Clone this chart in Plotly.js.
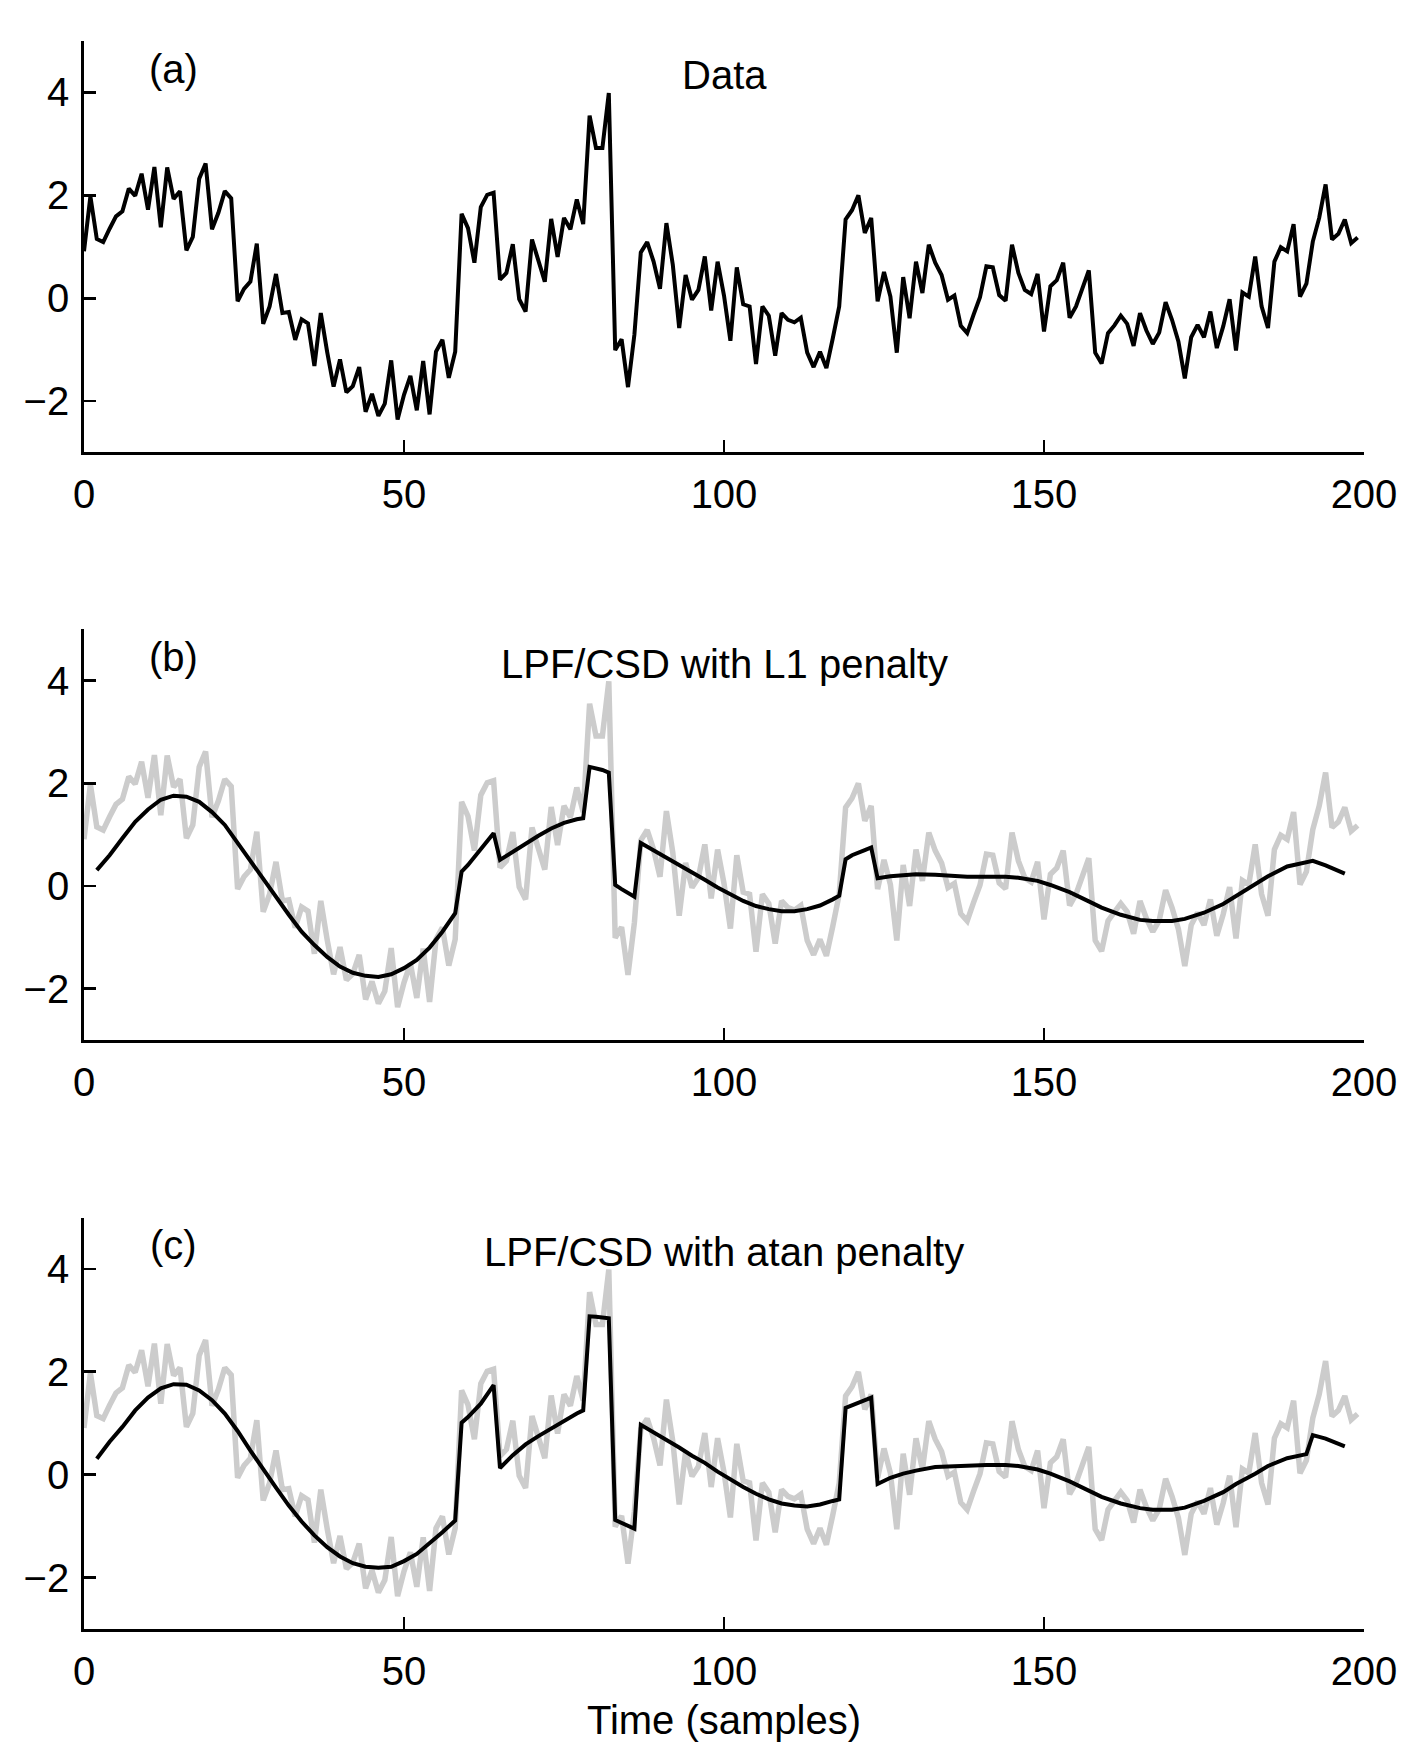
<!DOCTYPE html>
<html>
<head>
<meta charset="utf-8">
<script src="https://cdn.plot.ly/plotly-3.0.1.min.js"></script>
<style>html,body{margin:0;padding:0;background:#fff;}</style>
</head>
<body>
<div id="chart" style="width:1405px;height:1742px;"></div>
<script>
// Noisy data (samples 0..199)
const dataValues = [
 0.91, 1.98, 1.15, 1.09, 1.35, 1.59, 1.69, 2.13, 1.99, 2.42,
 1.72, 2.55, 1.38, 2.54, 1.93, 2.08, 0.93, 1.19, 2.32, 2.62,
 1.34, 1.66, 2.08, 1.94, -0.06, 0.18, 0.32, 1.06, -0.50, -0.16,
 0.47, -0.29, -0.27, -0.81, -0.41, -0.49, -1.32, -0.29, -1.05, -1.72,
 -1.19, -1.83, -1.71, -1.34, -2.21, -1.86, -2.29, -2.05, -1.21, -2.36,
 -1.88, -1.51, -2.18, -1.22, -2.26, -1.04, -0.81, -1.55, -1.04, 1.64,
 1.36, 0.69, 1.77, 2.01, 2.05, 0.36, 0.49, 1.05, -0.02, -0.26,
 1.14, 0.71, 0.32, 1.54, 0.80, 1.56, 1.34, 1.92, 1.44, 3.55,
 2.92, 2.92, 3.99, -1.01, -0.80, -1.73, -0.71, 0.89, 1.09, 0.71,
 0.18, 1.46, 0.65, -0.58, 0.45, -0.03, 0.16, 0.81, -0.24, 0.71,
 0.05, -0.83, 0.60, -0.12, -0.16, -1.28, -0.16, -0.34, -1.12, -0.29,
 -0.42, -0.47, -0.38, -1.06, -1.34, -1.04, -1.36, -0.78, -0.16, 1.53,
 1.71, 2.00, 1.27, 1.56, -0.06, 0.51, 0.03, -1.06, 0.41, -0.39,
 0.71, 0.10, 1.04, 0.69, 0.45, -0.03, 0.05, -0.54, -0.68, -0.32,
 0.02, 0.62, 0.60, 0.06, -0.05, 1.04, 0.49, 0.16, 0.08, 0.47,
 -0.65, 0.23, 0.35, 0.69, -0.38, -0.16, 0.19, 0.54, -1.06, -1.27,
 -0.68, -0.53, -0.34, -0.50, -0.93, -0.29, -0.63, -0.89, -0.67, -0.08,
 -0.42, -0.84, -1.56, -0.76, -0.52, -0.76, -0.26, -0.97, -0.55, -0.02,
 -1.02, 0.11, 0.03, 0.81, -0.16, -0.58, 0.71, 0.99, 0.91, 1.44,
 0.03, 0.28, 1.10, 1.56, 2.21, 1.14, 1.25, 1.53, 1.07, 1.18
];

// LPF/CSD with L1 penalty
const l1X = [2,4,6,8,10,12,14,16,18,20,22,24,26,28,30,32,34,36,38,40,42,44,46,48,50,52,54,56,58,59,60,62,64,65,67,69,71,73,75,77,78,79,80,81,82,83,84,85,86,87,89,91,93,95,97,99,101,103,105,107,109,111,113,115,117,118,119,120,122,123,124,126,128,130,133,136,138,141,144,146,149,151,154,157,159,162,165,167,170,172,175,178,180,183,185,188,190,192,194,197];
const l1Y = [0.31,0.60,0.93,1.25,1.49,1.68,1.76,1.74,1.64,1.44,1.19,0.84,0.47,0.12,-0.23,-0.56,-0.89,-1.15,-1.38,-1.57,-1.69,-1.75,-1.77,-1.72,-1.60,-1.44,-1.20,-0.89,-0.53,0.28,0.41,0.71,1.03,0.51,0.67,0.83,0.98,1.12,1.23,1.30,1.32,2.32,2.29,2.26,2.21,0.02,-0.06,-0.13,-0.21,0.84,0.70,0.56,0.41,0.26,0.12,-0.03,-0.16,-0.29,-0.39,-0.45,-0.49,-0.49,-0.45,-0.38,-0.26,-0.19,0.52,0.60,0.70,0.75,0.15,0.19,0.21,0.23,0.22,0.19,0.18,0.18,0.18,0.16,0.10,0.02,-0.12,-0.30,-0.42,-0.56,-0.66,-0.68,-0.68,-0.64,-0.52,-0.35,-0.20,0.03,0.19,0.38,0.43,0.49,0.40,0.24];

// LPF/CSD with atan penalty
const atanX = [2,4,6,8,10,12,14,16,18,20,22,24,26,28,30,32,34,36,38,40,42,44,46,48,50,52,54,56,58,59,60,62,64,65,67,69,71,73,75,77,78,79,80,81,82,83,84,85,86,87,89,91,93,95,97,99,101,103,105,107,109,111,113,115,117,118,119,120,122,123,124,126,128,130,133,136,138,141,144,146,149,151,154,157,159,162,165,167,170,172,175,178,180,183,185,188,190,191,192,194,197];
const atanY = [0.31,0.64,0.93,1.25,1.50,1.68,1.76,1.75,1.64,1.45,1.19,0.85,0.47,0.10,-0.25,-0.60,-0.91,-1.18,-1.41,-1.59,-1.72,-1.79,-1.81,-1.79,-1.68,-1.54,-1.34,-1.12,-0.89,1.01,1.12,1.38,1.74,0.13,0.38,0.59,0.75,0.90,1.04,1.19,1.25,3.08,3.07,3.06,3.04,-0.88,-0.94,-0.99,-1.05,0.97,0.83,0.68,0.53,0.37,0.23,0.06,-0.10,-0.24,-0.37,-0.48,-0.56,-0.60,-0.62,-0.58,-0.51,-0.48,1.30,1.35,1.45,1.50,-0.18,-0.06,0.02,0.08,0.15,0.17,0.18,0.19,0.19,0.17,0.10,0.02,-0.13,-0.32,-0.43,-0.56,-0.65,-0.68,-0.68,-0.64,-0.51,-0.34,-0.18,0.02,0.17,0.32,0.37,0.40,0.77,0.70,0.55];

const xTicks = [0, 50, 100, 150, 200];
const yTicks = [-2, 0, 2, 4];
const panelLabels = ['(a)', '(b)', '(c)'];
const panelTitles = ['Data', 'LPF/CSD with L1 penalty', 'LPF/CSD with atan penalty'];
const xAxisTitle = 'Time (samples)';

const FONT = 'Liberation Sans, Arial, Helvetica, sans-serif';
const FS = 40;
const GRAY = '#cccccc';

const traces = [
  {y: dataValues, type: 'scatter', mode: 'lines', xaxis: 'x', yaxis: 'y',
   line: {color: '#000', width: 4}, hoverinfo: 'skip'},
  {y: dataValues, type: 'scatter', mode: 'lines', xaxis: 'x2', yaxis: 'y2',
   line: {color: GRAY, width: 5.5}, hoverinfo: 'skip'},
  {x: l1X, y: l1Y, type: 'scatter', mode: 'lines', xaxis: 'x2', yaxis: 'y2',
   line: {color: '#000', width: 4}, hoverinfo: 'skip'},
  {y: dataValues, type: 'scatter', mode: 'lines', xaxis: 'x3', yaxis: 'y3',
   line: {color: GRAY, width: 5.5}, hoverinfo: 'skip'},
  {x: atanX, y: atanY, type: 'scatter', mode: 'lines', xaxis: 'x3', yaxis: 'y3',
   line: {color: '#000', width: 4}, hoverinfo: 'skip'}
];

function xAx(anchor) {
  return {
    anchor: anchor, domain: [0, 1], range: [0, 200], tickvals: xTicks,
    ticks: 'inside', ticklen: 12, tickwidth: 2.8, tickcolor: '#000',
    showline: true, linewidth: 2.8, linecolor: '#000',
    showgrid: false, zeroline: false, ticklabelstandoff: 5,
    tickfont: {family: FONT, size: FS, color: '#000'}
  };
}
function yAx(anchor, dom) {
  return {
    anchor: anchor, domain: dom, range: [-3, 5], tickvals: yTicks,
    ticks: 'inside', ticklen: 12, tickwidth: 2.8, tickcolor: '#000',
    showline: true, linewidth: 2.8, linecolor: '#000',
    showgrid: false, zeroline: false, ticklabelstandoff: 4,
    tickfont: {family: FONT, size: FS, color: '#000'}
  };
}

const xa3 = xAx('y3');
xa3.title = {text: xAxisTitle, font: {family: FONT, size: FS, color: '#000'}, standoff: 30};

const labelY = [4.46, 4.47, 4.47];
const titleY = [4.33, 4.33, 4.33];
const yrefs = ['y', 'y2', 'y3'];
const xrefs = ['x', 'x2', 'x3'];
const annotations = [];
for (let k = 0; k < 3; k++) {
  annotations.push({text: panelLabels[k], xref: xrefs[k], yref: yrefs[k], x: 14, y: labelY[k],
    xanchor: 'center', yanchor: 'middle', showarrow: false,
    font: {family: FONT, size: FS, color: '#000'}});
  annotations.push({text: panelTitles[k], xref: xrefs[k], yref: yrefs[k], x: 100, y: titleY[k],
    xanchor: 'center', yanchor: 'middle', showarrow: false,
    font: {family: FONT, size: FS, color: '#000'}});
}

const layout = {
  width: 1405, height: 1742,
  margin: {l: 84, r: 41, t: 41, b: 113},
  paper_bgcolor: '#fff', plot_bgcolor: '#fff',
  showlegend: false,
  font: {family: FONT, size: FS, color: '#000'},
  xaxis: xAx('y'), yaxis: yAx('x', [0.7409, 1.0]),
  xaxis2: xAx('y2'), yaxis2: yAx('x2', [0.3709, 0.6295]),
  xaxis3: xa3, yaxis3: yAx('x3', [0.0, 0.2591]),
  annotations: annotations
};

Plotly.newPlot('chart', traces, layout, {displayModeBar: false, staticPlot: true});
</script>
</body>
</html>
